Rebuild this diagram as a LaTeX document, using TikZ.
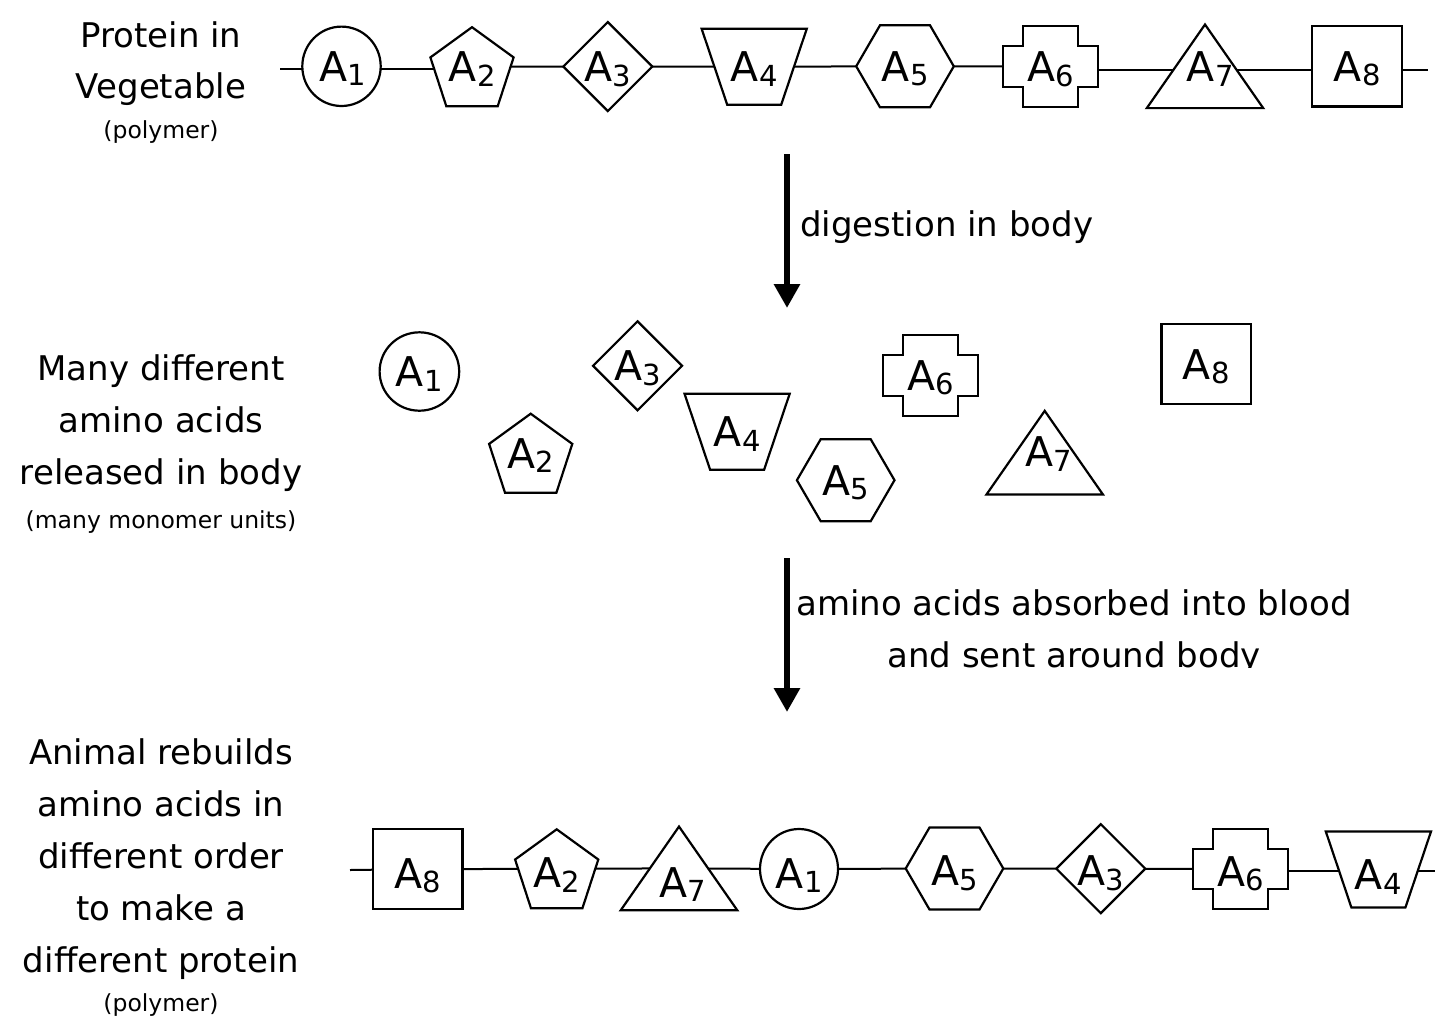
\documentclass[tikz,border=0pt]{standalone}
\usepackage{fontspec}
\setmainfont{DejaVu Sans}
\usetikzlibrary{calc,arrows.meta}
\pgfdeclarelayer{bg}
\pgfsetlayers{bg,main}
\newcommand{\amino}[1]{A\kern0.5pt{\fontsize{29}{29}\selectfont\raisebox{-4.5pt}{#1}}}
\newcommand{\shcirc}[3]{\draw[shp] (#1.center) ellipse [x radius=#2, y radius=#3];}
\newcommand{\shpent}[1]{\draw[shp,shift={(#1.center)}] (0,-39.5) -- (41.6,-9.3) -- (25.7,39.5) -- (-25.7,39.5) -- (-41.6,-9.3) -- cycle;}
\newcommand{\shdiam}[1]{\draw[shp,shift={(#1.center)}] (0,-44.5) -- (44.5,0) -- (0,44.5) -- (-44.5,0) -- cycle;}
\newcommand{\shtrap}[1]{\draw[shp,shift={(#1.center)}] (-52.6,-38) -- (52.6,-38) -- (27,38) -- (-27,38) -- cycle;}
\newcommand{\shhex}[1]{\draw[shp,shift={(#1.center)}] (-48.8,0) -- (-25,-41) -- (25,-41) -- (48.8,0) -- (25,41) -- (-25,41) -- cycle;}
\newcommand{\shcross}[1]{\draw[shp,shift={(#1.center)}] (-27.5,-40.3) -- (27.5,-40.3) -- (27.5,-20.3) -- (47.5,-20.3) -- (47.5,20.3) -- (27.5,20.3) -- (27.5,40.3) -- (-27.5,40.3) -- (-27.5,20.3) -- (-47.5,20.3) -- (-47.5,-20.3) -- (-27.5,-20.3) -- cycle;}
\newcommand{\shtri}[1]{\draw[shp,shift={(#1.center)}] (0,-41.8) -- (58.2,41.8) -- (-58.2,41.8) -- cycle;}
\newcommand{\shsq}[1]{\draw[shp,shift={(#1.center)}] (-44.7,-40.2) rectangle (44.7,40.2);}
\begin{document}
\begin{tikzpicture}[x=1pt,y=-1pt,
  pt/.style={inner sep=0pt,minimum size=0pt,draw=none},
  shp/.style={draw=black,line width=2.2pt,fill=white,line join=miter},
  conn/.style={draw=black,line width=2pt},
  lab/.style={anchor=base,inner sep=0pt,font=\fontsize{41}{41}\selectfont},
  ltxt/.style={anchor=base,inner sep=0pt,font=\fontsize{34}{34}\selectfont},
  stxt/.style={anchor=base,inner sep=0pt,font=\fontsize{23.5}{23.5}\selectfont},
  bigarrow/.style={line width=6.5pt,-{Triangle[length=24pt,width=25pt]}}]
\useasboundingbox (0,0) rectangle (1435,1018);

% ---------- positions ----------
\node[pt] (t1) at (341.5,66.3) {};
\node[pt] (t2) at (472,66.7) {};
\node[pt] (t3) at (607.8,66.5) {};
\node[pt] (t4) at (754.2,66.7) {};
\node[pt] (t5) at (905,66.3) {};
\node[pt] (t6) at (1050.65,66.5) {};
\node[pt] (t7) at (1205,66.3) {};
\node[pt] (t8) at (1357,66.35) {};
\coordinate (ts) at (280,69);
\coordinate (te) at (1427.7,70.3);

\node[pt] (m1) at (419.4,371.5) {};
\node[pt] (m2) at (530.7,453.2) {};
\node[pt] (m3) at (637.5,365.8) {};
\node[pt] (m4) at (737.1,431.7) {};
\node[pt] (m5) at (845.7,480.2) {};
\node[pt] (m6) at (930.8,375.35) {};
\node[pt] (m7) at (1044.7,452.65) {};
\node[pt] (m8) at (1206.2,364) {};

\node[pt] (b8) at (417.85,869.15) {};
\node[pt] (b2) at (556.7,868.8) {};
\node[pt] (b7) at (679,868.35) {};
\node[pt] (b1) at (799,869) {};
\node[pt] (b5) at (954.5,868.5) {};
\node[pt] (b3) at (1100.8,868.7) {};
\node[pt] (b6) at (1240.8,869) {};
\node[pt] (b4) at (1378.4,869.5) {};
\coordinate (bs) at (350,870);
\coordinate (be) at (1435,871);

% ---------- chain connectors (under the shapes) ----------
\begin{pgfonlayer}{bg}
\fill[white] (0,0) rectangle (1435,1018);
\draw[conn] (ts) -- (ts -| t1.center);
\draw[conn] (ts -| t1.center) -- (ts -| t2.center);
\draw[conn] (t2.center) -- (t3.center);
\draw[conn] (t3.center) -- (t4.center);
\draw[conn] (t4.center) -- (t5.center);
\draw[conn] (t5.center) -- (t6.center);
\draw[conn] (te -| t6.center) -- (te -| t7.center);
\draw[conn] (te -| t7.center) -- (te -| t8.center);
\draw[conn] (te -| t8.center) -- (te);

\draw[conn] (bs) -- (b8.center);
\draw[conn] (b8.center) -- (b2.center);
\draw[conn] (b2.center) -- (b7.center);
\draw[conn] (b7.center) -- (b1.center);
\draw[conn] (b1.center) -- (b5.center);
\draw[conn] (b5.center) -- (b3.center);
\draw[conn] (b3.center) -- (b6.center);
\draw[conn] (be -| b6.center) -- (be -| b4.center);
\draw[conn] (be -| b4.center) -- (be);
\end{pgfonlayer}

% ---------- outlines ----------
\shcirc{t1}{39.2}{39.7} \shpent{t2} \shdiam{t3} \shtrap{t4}
\shhex{t5} \shcross{t6} \shtri{t7} \shsq{t8}

\shcirc{m1}{39.8}{39.2} \shpent{m2} \shdiam{m3} \shtrap{m4}
\shhex{m5} \shcross{m6} \shtri{m7} \shsq{m8}

\shsq{b8} \shpent{b2} \shtri{b7} \shcirc{b1}{39}{40}
\shhex{b5} \shdiam{b3} \shcross{b6} \shtrap{b4}

% ---------- labels ----------
\node[lab] (lt1) at ($(t1.center)+(1,15)$) {\amino{1}};
\node[lab] (lt2) at ($(t2.center)+(0,15)$) {\amino{2}};
\node[lab] (lt3) at ($(t3.center)+(0,15)$) {\amino{3}};
\node[lab] (lt4) at ($(t4.center)+(0,15)$) {\amino{4}};
\node[lab] (lt5) at ($(t5.center)+(0,15)$) {\amino{5}};
\node[lab] (lt6) at ($(t6.center)+(0,15)$) {\amino{6}};
\node[lab] (lt7) at ($(t7.center)+(5,15.5)$) {\amino{7}};
\node[lab] (lt8) at ($(t8.center)+(0,15)$) {\amino{8}};

\node[lab] (lm1) at ($(m1.center)+(0,15)$) {\amino{1}};
\node[lab] (lm2) at ($(m2.center)+(0,15)$) {\amino{2}};
\node[lab] (lm3) at ($(m3.center)+(0,15)$) {\amino{3}};
\node[lab] (lm4) at ($(m4.center)+(0,15)$) {\amino{4}};
\node[lab] (lm5) at ($(m5.center)+(0,15)$) {\amino{5}};
\node[lab] (lm6) at ($(m6.center)+(0,15)$) {\amino{6}};
\node[lab] (lm7) at ($(m7.center)+(4,14)$) {\amino{7}};
\node[lab] (lm8) at ($(m8.center)+(0,15)$) {\amino{8}};

\node[lab] (lb8) at ($(b8.center)+(0,19)$) {\amino{8}};
\node[lab] (lb2) at ($(b2.center)+(0,19)$) {\amino{2}};
\node[lab] (lb7) at ($(b7.center)+(3.5,29)$) {\amino{7}};
\node[lab] (lb1) at ($(b1.center)+(0,19)$) {\amino{1}};
\node[lab] (lb5) at ($(b5.center)+(0,17)$) {\amino{5}};
\node[lab] (lb3) at ($(b3.center)+(0,17)$) {\amino{3}};
\node[lab] (lb6) at ($(b6.center)+(0,17)$) {\amino{6}};
\node[lab] (lb4) at ($(b4.center)+(0,20)$) {\amino{4}};

% ---------- left texts ----------
\node[ltxt] (x1) at (161,47) {Protein in};
\node[ltxt] (x2) at (161,98) {Vegetable};
\node[stxt] (x3) at (161,138) {(polymer)};

\node[ltxt] (y1) at (161,380) {Many different};
\node[ltxt] (y2) at (161,432) {amino acids};
\node[ltxt] (y3) at (161,484) {released in body};
\node[stxt] (y4) at (161,528) {(many monomer units)};

\node[ltxt] (z1) at (161,764) {Animal rebuilds};
\node[ltxt] (z2) at (161,816) {amino acids in};
\node[ltxt] (z3) at (161,868) {different order};
\node[ltxt] (z4) at (161,920) {to make a};
\node[ltxt] (z5) at (161,972) {different protein};
\node[stxt] (z6) at (161,1011) {(polymer)};

% ---------- process arrows ----------
\coordinate (a1s) at (787,154);
\coordinate (a1e) at (787,308);
\coordinate (a2s) at (787,558);
\coordinate (a2e) at (787,712);
\draw[bigarrow] (a1s) -- (a1e);
\draw[bigarrow] (a2s) -- (a2e);

\node[ltxt,anchor=base west] (d1) at (800,236) {digestion in body};
\node[ltxt] (d2) at (1074,615) {amino acids absorbed into blood};
\begin{scope}
\clip (700,630) rectangle (1435,667.5);
\node[ltxt] (d3) at (1074,667) {and sent around body};
\end{scope}
\end{tikzpicture}
\end{document}
